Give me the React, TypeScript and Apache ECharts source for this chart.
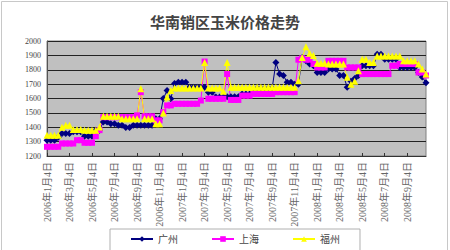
import React, { useEffect, useRef } from "react";
import * as echarts from "echarts";

const tickLabels = [
  "2006年1月4日", "2006年3月4日", "2006年5月4日", "2006年7月4日", "2006年9月4日", "2006年11月4日",
  "2007年1月4日", "2007年3月4日", "2007年5月4日", "2007年7月4日", "2007年9月4日", "2007年11月4日",
  "2008年1月4日", "2008年3月4日", "2008年5月4日", "2008年7月4日", "2008年9月4日",
];
const pointsPerTick = 6;

const guangzhou = [
  1310, 1310, 1310, 1330, 1356, 1356, 1356, 1368, 1368, 1368,
  1338, 1338, 1338, 1380, 1380, 1437, 1437, 1425, 1425, 1414,
  1414, 1398, 1398, 1414, 1414, 1414, 1414, 1414, 1414, 1460,
  1460, 1600, 1655, 1598, 1705, 1713, 1713, 1713, 1678, 1678,
  1678, 1678, 1678, 1644, 1644, 1610, 1610, 1610, 1612, 1612,
  1612, 1612, 1632, 1632, 1632, 1644, 1670, 1670, 1670, 1670,
  1670, 1850, 1770, 1760, 1713, 1713, 1700, 1700, 1885, 1862,
  1840, 1828, 1781, 1781, 1781, 1805, 1805, 1805, 1760, 1760,
  1678, 1720, 1740, 1760, 1828, 1828, 1828, 1828, 1908, 1908,
  1873, 1873, 1873, 1873, 1816, 1816, 1816, 1816, 1816, 1781,
  1750, 1710,
];

const shanghai = [
  1264, 1264, 1264, 1264, 1287, 1287, 1287, 1287, 1310, 1310,
  1292, 1292, 1292, 1338, 1380, 1470, 1470, 1470, 1470, 1470,
  1470, 1470, 1470, 1470, 1483, 1644, 1476, 1476, 1476, 1448,
  1448, 1505, 1552, 1552, 1563, 1563, 1563, 1563, 1563, 1563,
  1563, 1586, 1857, 1598, 1598, 1598, 1598, 1598, 1770, 1590,
  1590, 1590, 1620, 1620, 1620, 1632, 1632, 1632, 1632, 1632,
  1632, 1644, 1644, 1644, 1644, 1644, 1644, 1870, 1880, 1870,
  1870, 1840, 1816, 1816, 1816, 1862, 1862, 1862, 1862, 1862,
  1816, 1816, 1816, 1816, 1770, 1770, 1770, 1770, 1770, 1770,
  1770, 1770, 1828, 1828, 1840, 1840, 1840, 1840, 1840, 1781,
  1781, 1760,
];

const fuzhou = [
  1345, 1345, 1345, 1345, 1400, 1414, 1414, 1384, 1384, 1384,
  1380, 1380, 1380, 1380, 1402, 1476, 1476, 1476, 1476, 1476,
  1460, 1460, 1460, 1460, 1460, 1667, 1460, 1460, 1460, 1425,
  1425, 1500, 1610, 1655, 1673, 1673, 1673, 1673, 1673, 1673,
  1673, 1673, 1850, 1673, 1673, 1673, 1673, 1650, 1850, 1678,
  1678, 1678, 1678, 1678, 1678, 1678, 1678, 1678, 1678, 1678,
  1678, 1678, 1678, 1678, 1678, 1678, 1678, 1724, 1885, 1960,
  1915, 1900, 1845, 1845, 1845, 1840, 1840, 1840, 1840, 1840,
  1747, 1700, 1720, 1793, 1873, 1873, 1850, 1850, 1896, 1896,
  1896, 1896, 1896, 1896, 1896, 1862, 1862, 1862, 1862, 1840,
  1805, 1770,
];

const categories = guangzhou.map((_, i) =>
  i % pointsPerTick === 0 ? tickLabels[i / pointsPerTick] ?? "" : ""
);

const serif = "'Liberation Serif', 'Noto Sans CJK SC', serif";

export default function App() {
  const ref = useRef<HTMLDivElement>(null);
  useEffect(() => {
    if (!ref.current) return;
    const chart = echarts.init(ref.current, undefined, { renderer: "svg" });
    const mk = (name: string, data: number[], color: string, symbol: string, size: number) => ({
      name,
      type: "line",
      data,
      symbol,
      symbolSize: size,
      showAllSymbol: true,
      lineStyle: { color, width: 1 },
      itemStyle: { color, borderColor: color, borderWidth: 0 },
    });
    chart.setOption({
      animation: false,
      backgroundColor: "#ffffff",
      graphic: [
        {
          type: "rect",
          shape: { x: 1.5, y: 1.5, width: 446, height: 260 },
          style: { fill: "none", stroke: "#c8c8c8", lineWidth: 1 },
          silent: true,
        },
      ],
      title: {
        text: "华南销区玉米价格走势",
        left: "center",
        top: 9,
        textStyle: {
          fontFamily: "'Noto Sans CJK SC', sans-serif",
          fontSize: 15,
          fontWeight: "bold",
          color: "#444",
        },
      },
      legend: {
        left: 110,
        top: 229,
        padding: [5, 20, 20, 20],
        borderColor: "#b0b0b0",
        borderWidth: 1,
        itemWidth: 22,
        itemHeight: 7,
        itemGap: 33,
        textStyle: { fontFamily: serif, fontSize: 10, color: "#444" },
        data: ["广州", "上海", "福州"],
      },
      grid: {
        left: 47,
        right: 24,
        top: 41,
        bottom: 94,
        show: true,
        backgroundColor: "#c0c0c0",
        borderColor: "#808080",
        borderWidth: 1,
      },
      xAxis: {
        type: "category",
        data: categories,
        boundaryGap: false,
        axisLine: { lineStyle: { color: "#333", width: 1 } },
        axisTick: { show: true, inside: true, length: 3, interval: pointsPerTick - 1, lineStyle: { color: "#333" } },
        axisLabel: {
          interval: pointsPerTick - 1,
          rotate: 90,
          fontFamily: serif,
          fontSize: 10,
          color: "#666",
          margin: 6,
        },
        splitLine: { show: false },
      },
      yAxis: {
        type: "value",
        min: 1200,
        max: 2000,
        interval: 100,
        axisLine: { show: true, lineStyle: { color: "#555" } },
        axisTick: { show: false },
        axisLabel: {
          fontFamily: serif,
          fontSize: 8,
          color: "#444",
          margin: 6,
          formatter: (v: number) => String(v),
        },
        splitLine: { show: true, lineStyle: { color: "#222", width: 1 } },
      },
      series: [
        mk("广州", guangzhou, "#000080", "diamond", 7),
        mk("上海", shanghai, "#ff00ff", "rect", 6),
        mk("福州", fuzhou, "#ffff00", "triangle", 7),
      ],
    });
    return () => chart.dispose();
  }, []);
  return (
    <div
      ref={ref}
      style={{ position: "fixed", left: 0, top: 0, width: 450, height: 250 }}
    />
  );
}
